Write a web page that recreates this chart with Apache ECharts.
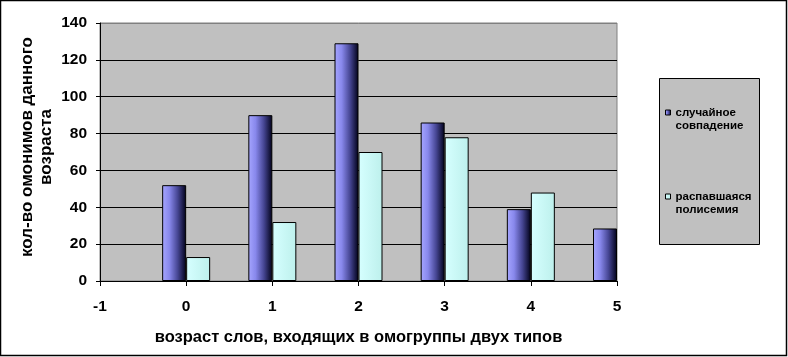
<!DOCTYPE html>
<html>
<head>
<meta charset="utf-8">
<script src="https://cdn.jsdelivr.net/npm/echarts@6/dist/echarts.min.js"></script>
<style>
html,body{margin:0;padding:0;background:#fff;}
#chart{width:788px;height:357px;}
</style>
</head>
<body>
<div id="chart"></div>
<script>
const categories = ['-1', '0', '1', '2', '3', '4', '5'];
const seriesNames = ['случайное совпадение', 'распавшаяся полисемия'];
const randomCoincidence = [null, 52, 90, 129, 86, 39, 28.5];
const decayedPolysemy = [null, 13, 32, 70, 78, 48, null];
const yTicks = [0, 20, 40, 60, 80, 100, 120, 140];
const xAxisTitle = 'возраст слов, входящих в омогруппы двух типов';
const yAxisTitle = 'кол-во омонимов данного\nвозраста';

const FONT = 'Liberation Sans, Arial, sans-serif';
const chart = echarts.init(document.getElementById('chart'), null, {renderer: 'canvas'});

const blueGrad = new echarts.graphic.LinearGradient(0, 0, 1, 0, [
  {offset: 0, color: '#a6a6ff'},
  {offset: 0.3, color: '#8888ec'},
  {offset: 0.65, color: '#454592'},
  {offset: 1, color: '#000018'}
]);
const cyanGrad = new echarts.graphic.LinearGradient(0, 0, 1, 0, [
  {offset: 0, color: '#d6ffff'},
  {offset: 1, color: '#bdf0ec'}
]);

const gridColors = yTicks.map((v, i) => i === yTicks.length - 1 ? '#808080' : '#000000');

chart.setOption({
  animation: false,
  backgroundColor: '#ffffff',
  grid: {
    left: 100, top: 23, width: 517, height: 258,
    show: true, backgroundColor: '#c0c0c0', borderColor: '#808080', borderWidth: 1
  },
  graphic: [
    {type: 'rect', z: 100, silent: true, shape: {x: 0.5, y: 0.5, width: 786, height: 355},
     style: {fill: 'none', stroke: '#000', lineWidth: 1.5}},
    {type: 'rect', z: -1, silent: true, shape: {x: 659.5, y: 78.5, width: 100, height: 166},
     style: {fill: '#c0c0c0', stroke: '#000', lineWidth: 1}},
    {type: 'text', z: 50, x: 37, y: 147, rotation: Math.PI / 2,
     style: {text: yAxisTitle, font: 'bold 17px ' + FONT, fill: '#000',
             textAlign: 'center', textVerticalAlign: 'middle', lineHeight: 19}}
  ],
  legend: {
    orient: 'vertical',
    left: 665, top: 106,
    padding: 0,
    itemWidth: 5, itemHeight: 18,
    itemGap: 58,
    icon: 'path://M0,0L5,0L5,5L0,5Z M0,18',
    data: seriesNames,
    formatter: function (name) { return name.replace(' ', '\n'); },
    textStyle: {fontFamily: FONT, fontWeight: 'bold', fontSize: 11.5, color: '#000', lineHeight: 13},
    itemStyle: {borderColor: '#000', borderWidth: 1}
  },
  xAxis: {
    type: 'category',
    data: categories,
    boundaryGap: false,
    name: xAxisTitle,
    nameLocation: 'middle',
    nameGap: 48,
    nameTextStyle: {fontFamily: FONT, fontWeight: 'bold', fontSize: 16.5, color: '#000'},
    axisLine: {lineStyle: {color: '#000', width: 1}},
    axisTick: {show: true, length: 5, lineStyle: {color: '#000'}},
    axisLabel: {fontFamily: FONT, fontWeight: 'bold', fontSize: 15.5, color: '#000', margin: 18},
    splitLine: {show: false}
  },
  yAxis: {
    type: 'value',
    min: 0, max: 140, interval: 20,
    axisLine: {show: true, lineStyle: {color: '#000', width: 1}},
    axisTick: {show: true, length: 4, lineStyle: {color: '#000'}},
    axisLabel: {fontFamily: FONT, fontWeight: 'bold', fontSize: 15.5, color: '#000', margin: 13},
    splitLine: {show: true, lineStyle: {color: gridColors, width: 1}}
  },
  series: [
    {
      name: seriesNames[0], type: 'bar', data: randomCoincidence,
      barWidth: 24, barGap: '0%',
      itemStyle: {color: blueGrad, borderColor: '#000', borderWidth: 1}
    },
    {
      name: seriesNames[1], type: 'bar', data: decayedPolysemy,
      barWidth: 24, barGap: '0%',
      itemStyle: {color: cyanGrad, borderColor: '#000', borderWidth: 1}
    }
  ]
});
</script>
</body>
</html>
